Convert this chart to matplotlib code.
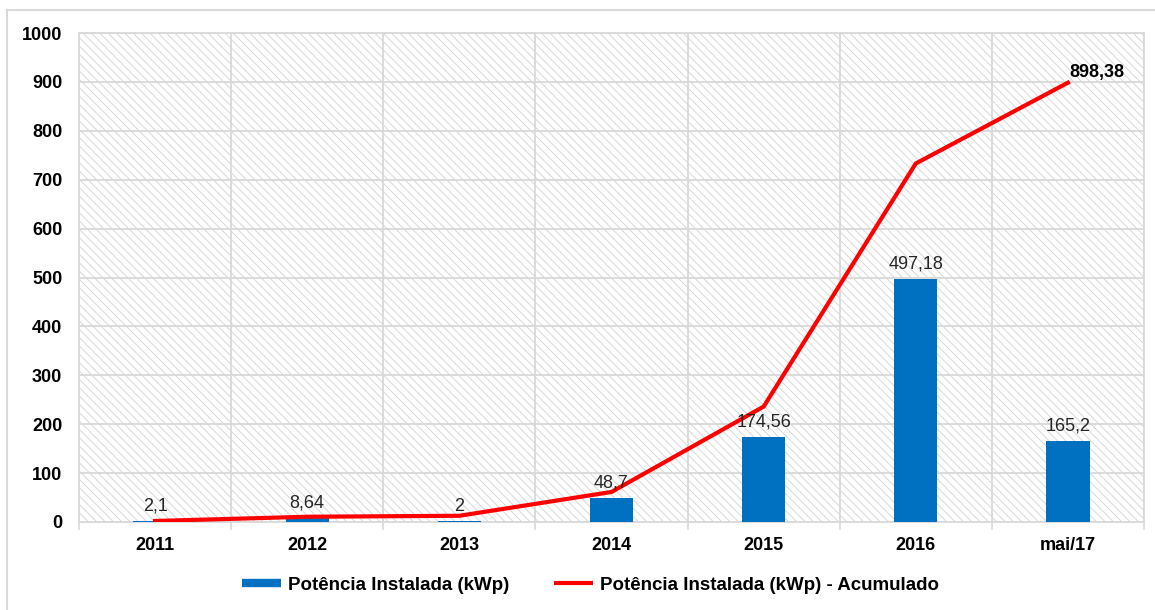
import matplotlib
matplotlib.use("Agg")
import matplotlib.pyplot as plt
from matplotlib.patches import Rectangle
from matplotlib.lines import Line2D
import numpy as np

plt.rcParams['font.family'] = ['Liberation Sans', 'DejaVu Sans']
plt.rcParams['hatch.linewidth'] = 0.6

categories = ['2011', '2012', '2013', '2014', '2015', '2016', 'mai/17']
installed = [2.1, 8.64, 2, 48.7, 174.56, 497.18, 165.2]
installed_labels = ['2,1', '8,64', '2', '48,7', '174,56', '497,18', '165,2']
cumulative = list(np.cumsum(installed))
final_label = '898,38'
y_ticks = [0, 100, 200, 300, 400, 500, 600, 700, 800, 900, 1000]

bar_color = '#0070C0'
line_color = '#FF0000'
grid_color = '#D9D9D9'

fig = plt.figure(figsize=(11.55, 6.10), dpi=100)
ax = fig.add_axes([79 / 1155, 88 / 610, (1144 - 79) / 1155, (522 - 33) / 610])

# hatched plot background
ax.add_patch(Rectangle((0, 0), 1, 1, transform=ax.transAxes, facecolor='white',
                       edgecolor='#D2D2D2', hatch='\\\\\\\\', lw=0, zorder=0))

x = np.arange(len(categories))
ax.bar(x, installed, width=0.285, color=bar_color, zorder=3)
ax.plot(x, cumulative, color=line_color, lw=3, zorder=4, solid_joinstyle='miter')

for xi, v, lab in zip(x, installed, installed_labels):
    ax.annotate(lab, (xi, v), xytext=(0, 4.5), textcoords='offset points',
                ha='center', va='bottom', fontsize=13, color='#262626', zorder=5)

ax.annotate(final_label, (x[-1], cumulative[-1]), xytext=(1, 1), textcoords='offset points',
            ha='left', va='bottom', fontsize=13, fontweight='bold', color='black', zorder=5)

ax.set_xlim(-0.5, len(categories) - 0.5)
ax.set_ylim(0, 1000)
ax.set_yticks(y_ticks)
ax.set_yticklabels([str(t) for t in y_ticks], fontsize=13, fontweight='bold')
ax.set_xticks(x)
ax.set_xticklabels(categories, fontsize=13, fontweight='bold')
ax.set_xticks(np.arange(-0.5, len(categories), 1.0), minor=True)

ax.tick_params(axis='y', length=0, pad=12)
ax.tick_params(axis='x', which='major', length=0, pad=11)
ax.tick_params(axis='x', which='minor', length=6, width=1.2, color=grid_color)

ax.grid(axis='y', which='major', color=grid_color, lw=1.3, zorder=1)
ax.grid(axis='x', which='minor', color=grid_color, lw=1.3, zorder=1)
ax.set_axisbelow(True)
for s in ax.spines.values():
    s.set_color(grid_color)
    s.set_linewidth(1.3)
    s.set_zorder(1)

handles = [Line2D([], [], color=bar_color, lw=6, solid_capstyle='butt'),
           Line2D([], [], color=line_color, lw=3, solid_capstyle='butt')]
labels = ['Potência Instalada (kWp)', 'Potência Instalada (kWp) - Acumulado']
fig.legend(handles, labels, loc='center', bbox_to_anchor=(0.511, 0.041), ncol=2,
           frameon=False, prop={'size': 13.5, 'weight': 'bold'},
           handlelength=2.1, handletextpad=0.35, columnspacing=2.4)

# outer chart frame
fig.add_artist(Line2D([7 / 1155, 7 / 1155], [0, 1 - 10 / 610], transform=fig.transFigure,
                      color=grid_color, lw=1.5))
fig.add_artist(Line2D([7 / 1155, 1], [1 - 10 / 610, 1 - 10 / 610], transform=fig.transFigure,
                      color=grid_color, lw=1.5))

fig.savefig('out.png', dpi=100)
